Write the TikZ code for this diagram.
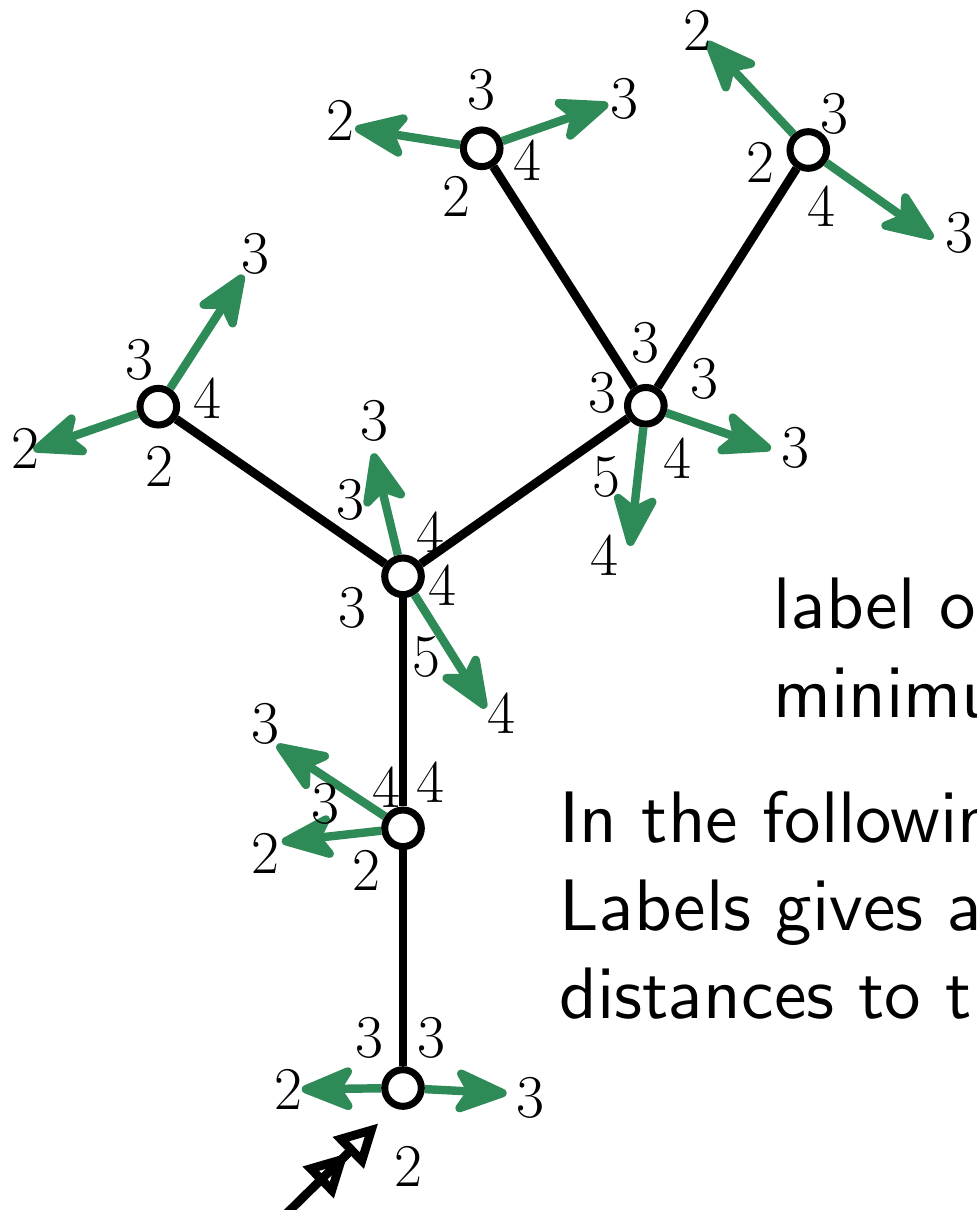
\documentclass[tikz,border=0pt]{standalone}
\usetikzlibrary{arrows.meta}
\definecolor{sgreen}{RGB}{46,139,87}
\font\txtsans=cmss10 at 20.74pt
\begin{document}
\begin{tikzpicture}[x=0.01cm,y=-0.01cm,
  vtx/.style={circle,draw=black,fill=white,line width=2pt,minimum size=0.366cm,inner sep=0pt},
  edge/.style={line width=2.5pt},
  garrow/.style={draw=sgreen,line width=2.4pt,-{Stealth[length=18pt,width=14.5pt,inset=4.5pt,round]}},
  entry/.style={line width=2.5pt,-{Triangle[open,length=12pt,width=12pt]Triangle[open,length=12pt,width=12pt]}},
  num/.style={font=\LARGE,inner sep=0pt},
  txt/.style={font=\txtsans,inner sep=0pt,anchor=base west}]
\path[use as bounding box] (0,0) rectangle (977,1210);
\clip (0,0) rectangle (977,1210);
% vertices
\node[vtx] (A) at (403,1088) {};
\node[vtx] (B) at (403,828.3) {};
\node[vtx] (C) at (403,576.3) {};
\node[vtx] (D) at (158.3,406.7) {};
\node[vtx] (E) at (645.8,405.8) {};
\node[vtx] (F) at (481.7,148.3) {};
\node[vtx] (G) at (808.3,150) {};
% tree edges
\draw[edge] (A) -- (B);
\draw[edge] (B) -- (C);
\draw[edge] (C) -- (D);
\draw[edge] (C) -- (E);
\draw[edge] (E) -- (F);
\draw[edge] (E) -- (G);
% arrow tips
\coordinate (Al) at (301.7,1089.3);
\coordinate (Ar) at (506.7,1093.3);
\coordinate (Bu) at (276.7,745);
\coordinate (Bl) at (281.7,841.7);
\coordinate (Cu) at (373.3,453.3);
\coordinate (Cd) at (485.7,708.3);
\coordinate (Dl) at (33.3,450);
\coordinate (Du) at (243.3,275);
\coordinate (Er) at (771,449);
\coordinate (Ed) at (630,546);
\coordinate (Fl) at (355,128.3);
\coordinate (Fr) at (608.3,104);
\coordinate (Gu) at (706.7,41.7);
\coordinate (Gd) at (933.3,238.3);
\draw[garrow] (A) -- (Al);
\draw[garrow] (A) -- (Ar);
\draw[garrow] (B) -- (Bu);
\draw[garrow] (B) -- (Bl);
\draw[garrow] (C) -- (Cu);
\draw[garrow] (C) -- (Cd);
\draw[garrow] (D) -- (Dl);
\draw[garrow] (D) -- (Du);
\draw[garrow] (E) -- (Er);
\draw[garrow] (E) -- (Ed);
\draw[garrow] (F) -- (Fl);
\draw[garrow] (F) -- (Fr);
\draw[garrow] (G) -- (Gu);
\draw[garrow] (G) -- (Gd);
% entry arrow
\coordinate (s) at (280,1220);
\coordinate (t) at (378.3,1123.3);
\draw[entry] (s) -- (t);
% labels A
\node[num] (a1) at (369,1038) {3};
\node[num] (a2) at (431,1038) {3};
\node[num] (a3) at (408.3,1166.7) {2};
\node[num] (a4) at (288,1089) {2};
\node[num] (a5) at (530.8,1098.3) {3};
% labels B
\node[num] (b1) at (386.7,786.7) {4};
\node[num] (b2) at (430,781.7) {4};
\node[num] (b3) at (325,804) {3};
\node[num] (b4) at (366,870) {2};
\node[num] (b5) at (265.8,724) {3};
\node[num] (b6) at (265,853) {2};
% labels C
\node[num] (c1) at (350.8,500) {3};
\node[num] (c2) at (430,531.7) {4};
\node[num] (c3) at (442.5,585) {4};
\node[num] (c4) at (352.5,607.5) {3};
\node[num] (c5) at (426.7,656.7) {5};
\node[num] (c6) at (374,421) {3};
\node[num] (c7) at (501.7,713) {4};
% labels D
\node[num] (d1) at (139,359.5) {3};
\node[num] (d2) at (207.5,398) {4};
\node[num] (d3) at (159,466.7) {2};
\node[num] (d4) at (255.8,254) {3};
\node[num] (d5) at (25,448) {2};
% labels E
\node[num] (e1) at (645.8,342.5) {3};
\node[num] (e2) at (704,379) {3};
\node[num] (e3) at (602.5,393) {3};
\node[num] (e4) at (606.7,476.7) {5};
\node[num] (e5) at (677.5,458) {4};
\node[num] (e6) at (795,447.5) {3};
\node[num] (e7) at (604,555) {4};
% labels F
\node[num] (f1) at (481.7,89.7) {3};
\node[num] (f2) at (527.5,160) {4};
\node[num] (f3) at (456,196.7) {2};
\node[num] (f4) at (340.5,120) {2};
\node[num] (f5) at (624,99) {3};
% labels G
\node[num] (g1) at (834,114) {3};
\node[num] (g2) at (760,162.5) {2};
\node[num] (g3) at (821.7,205.8) {4};
\node[num] (g4) at (697.5,30.8) {2};
\node[num] (g5) at (959,233) {3};
% text
\node[txt] (t1) at (773,628) {label of};
\node[txt] (t2) at (773,717) {minimum};
\node[txt] (t3) at (559,842) {In the following};
\node[txt] (t4) at (559,930) {Labels gives a};
\node[txt] (t5) at (559,1018) {distances to the};
\end{tikzpicture}
\end{document}
